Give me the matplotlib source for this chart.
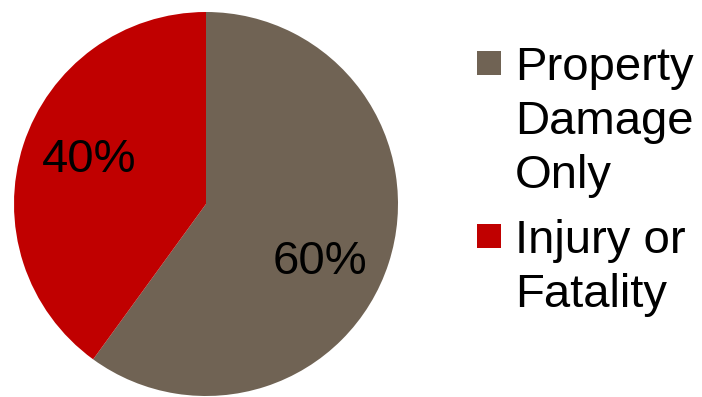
import matplotlib
matplotlib.use("Agg")
import matplotlib.pyplot as plt
from matplotlib.patches import Rectangle

categories = ["Property\nDamage\nOnly", "Injury or\nFatality"]
values = [60, 40]
colors = ["#706354", "#C00000"]

plt.rcParams['font.family'] = ['Liberation Sans', 'DejaVu Sans']

W, H = 702, 397
fig = plt.figure(figsize=(W / 100, H / 100), dpi=100)
cx, cy, r = 206, 204, 192
ax = fig.add_axes([(cx - r) / W, 1 - (cy + r) / H, 2 * r / W, 2 * r / H])
wedges, texts, autotexts = ax.pie(values, colors=colors, startangle=90, counterclock=False,
                                  autopct='%1.0f%%', pctdistance=0.66,
                                  textprops=dict(fontsize=34, color='black'),
                                  wedgeprops=dict(linewidth=0))
ax.set_xlim(-1, 1)
ax.set_ylim(-1, 1)
ax.set_aspect('auto')
ax.axis('off')

# nudge label positions to match reference
autotexts[0].set_position((0.595, -0.30))
autotexts[1].set_position((-0.61, 0.23))

# manual legend
sq = 24
text_x = 515 / W
first_baselines = [80, 253]
line_step = 54
for i, (lab, col) in enumerate(zip(categories, colors)):
    b0 = first_baselines[i]
    sq_center = b0 - 17
    fig.patches.append(Rectangle(((489 - sq / 2) / W, 1 - (sq_center + sq / 2) / H), sq / W, sq / H,
                                 transform=fig.transFigure, facecolor=col, edgecolor='none'))
    for j, line in enumerate(lab.split("\n")):
        fig.text(text_x, 1 - (b0 + j * line_step) / H, line, fontsize=34, va='baseline', ha='left')

fig.savefig("out.png", dpi=100)
